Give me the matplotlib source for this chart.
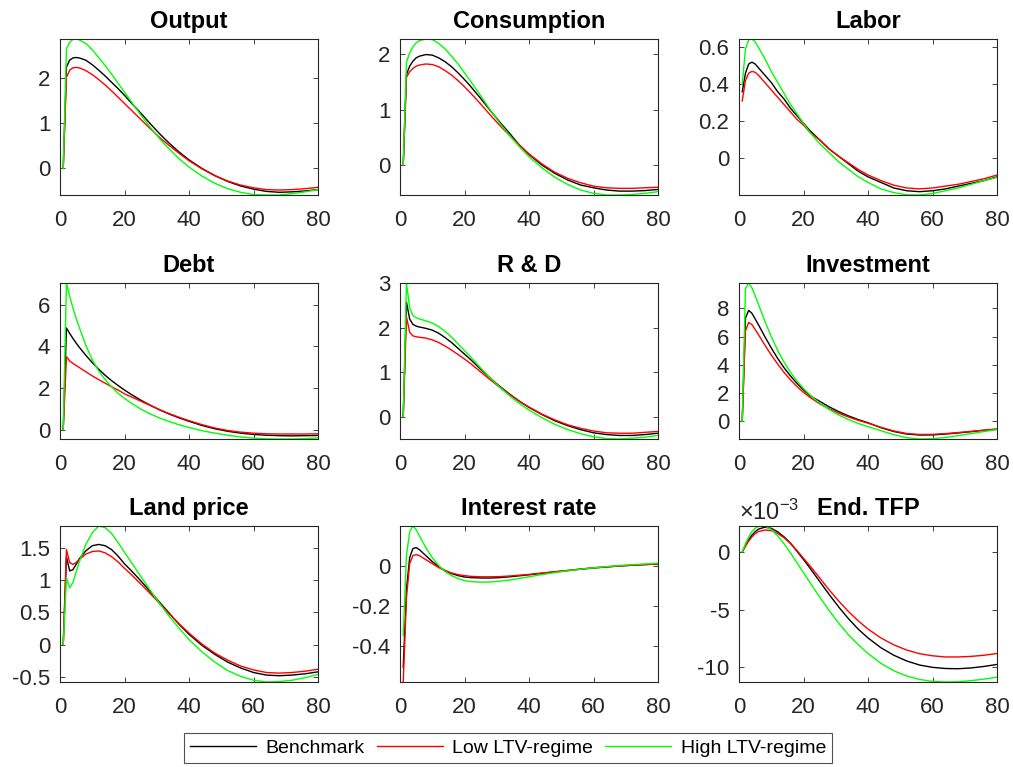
import matplotlib
matplotlib.use('Agg')
import matplotlib.pyplot as plt
from matplotlib.ticker import FuncFormatter

# Matplotlib configuration (MATLAB look)
matplotlib.rc('font', family=['Liberation Sans', 'DejaVu Sans'], size=16)
matplotlib.rc('axes', unicode_minus=False)
matplotlib.rc('mathtext', fontset='custom', rm='Liberation Sans',
              it='Liberation Sans:italic', bf='Liberation Sans:bold')

# Quarters after the shock
periods = [1, 2, 3, 4, 5, 6, 8, 10, 12, 14, 16, 18, 20, 22, 25, 28, 31, 34,
           37, 40, 44, 48, 52, 56, 60, 64, 68, 72, 76, 80]

titles = ['Output', 'Consumption', 'Labor', 'Debt', 'R & D', 'Investment',
          'Land price', 'Interest rate', 'End. TFP']
series_labels = ['Benchmark', 'Low LTV-regime', 'High LTV-regime']

output_bench = [0, 2.25, 2.40, 2.45, 2.46, 2.45, 2.40, 2.30, 2.18, 2.05, 1.91, 1.77, 1.62, 1.46, 1.23,
                0.99, 0.76, 0.55, 0.36, 0.19, 0.00, -0.16, -0.29, -0.39, -0.46, -0.51, -0.53, -0.52, -0.50, -0.47]
output_low = [0, 2.02, 2.18, 2.23, 2.24, 2.23, 2.17, 2.08, 1.97, 1.85, 1.72, 1.58, 1.44, 1.30, 1.09,
              0.88, 0.68, 0.50, 0.33, 0.17, -0.01, -0.16, -0.28, -0.37, -0.43, -0.47, -0.48, -0.47, -0.45, -0.42]
output_high = [0, 2.65, 2.80, 2.86, 2.87, 2.85, 2.77, 2.63, 2.46, 2.28, 2.09, 1.89, 1.69, 1.49, 1.19,
               0.91, 0.65, 0.42, 0.21, 0.03, -0.17, -0.33, -0.45, -0.53, -0.58, -0.59, -0.59, -0.56, -0.52, -0.47]

cons_bench = [0, 1.63, 1.78, 1.87, 1.93, 1.96, 1.99, 1.98, 1.93, 1.86, 1.77, 1.66, 1.54, 1.41, 1.20,
              0.98, 0.77, 0.57, 0.36, 0.19, 0.00, -0.15, -0.27, -0.36, -0.41, -0.45, -0.47, -0.47, -0.46, -0.44]
cons_low = [0, 1.58, 1.68, 1.74, 1.78, 1.80, 1.82, 1.81, 1.77, 1.70, 1.62, 1.52, 1.41, 1.29, 1.10,
            0.90, 0.71, 0.53, 0.36, 0.20, 0.02, -0.13, -0.24, -0.32, -0.38, -0.41, -0.42, -0.42, -0.41, -0.40]
cons_high = [0, 1.85, 2.02, 2.13, 2.20, 2.24, 2.27, 2.26, 2.19, 2.09, 1.96, 1.82, 1.66, 1.50, 1.25,
             0.99, 0.75, 0.53, 0.33, 0.15, -0.05, -0.22, -0.35, -0.45, -0.51, -0.54, -0.54, -0.53, -0.51, -0.48]

labor_bench = [0.36, 0.46, 0.51, 0.52, 0.51, 0.49, 0.45, 0.41, 0.36, 0.32, 0.27, 0.23, 0.19, 0.15, 0.10,
               0.05, 0.01, -0.03, -0.07, -0.10, -0.13, -0.16, -0.175, -0.18, -0.175, -0.165, -0.15, -0.135, -0.12, -0.10]
labor_low = [0.31, 0.42, 0.46, 0.47, 0.465, 0.45, 0.41, 0.37, 0.33, 0.29, 0.25, 0.21, 0.18, 0.14, 0.10,
             0.05, 0.01, -0.025, -0.06, -0.09, -0.12, -0.145, -0.16, -0.165, -0.16, -0.15, -0.14, -0.125, -0.11, -0.09]
labor_high = [0.40, 0.59, 0.64, 0.645, 0.63, 0.60, 0.54, 0.47, 0.41, 0.35, 0.29, 0.24, 0.19, 0.14, 0.08,
              0.03, -0.02, -0.06, -0.10, -0.13, -0.165, -0.185, -0.197, -0.198, -0.19, -0.175, -0.16, -0.14, -0.12, -0.103]

debt_bench = [0, 4.88, 4.62, 4.38, 4.16, 3.95, 3.57, 3.22, 2.90, 2.61, 2.35, 2.12, 1.90, 1.70, 1.42,
              1.17, 0.94, 0.74, 0.56, 0.40, 0.20, 0.04, -0.08, -0.17, -0.23, -0.27, -0.29, -0.30, -0.29, -0.28]
debt_low = [0, 3.50, 3.30, 3.18, 3.08, 2.98, 2.78, 2.58, 2.40, 2.23, 2.06, 1.90, 1.72, 1.58, 1.37,
            1.16, 0.95, 0.76, 0.59, 0.43, 0.24, 0.08, -0.04, -0.12, -0.17, -0.20, -0.21, -0.21, -0.21, -0.20]
debt_high = [0, 7.04, 6.40, 5.85, 5.35, 4.90, 4.05, 3.35, 2.82, 2.40, 2.05, 1.75, 1.50, 1.28, 0.99,
             0.75, 0.55, 0.38, 0.23, 0.10, -0.05, -0.17, -0.27, -0.35, -0.41, -0.44, -0.45, -0.45, -0.43, -0.40]

rd_bench = [0, 2.58, 2.20, 2.08, 2.04, 2.02, 1.99, 1.95, 1.88, 1.78, 1.67, 1.54, 1.41, 1.28, 1.07,
            0.87, 0.68, 0.51, 0.35, 0.21, 0.05, -0.09, -0.20, -0.29, -0.36, -0.40, -0.42, -0.42, -0.40, -0.37]
rd_low = [0, 2.25, 1.90, 1.82, 1.80, 1.79, 1.77, 1.73, 1.67, 1.59, 1.50, 1.40, 1.30, 1.19, 1.01,
          0.83, 0.66, 0.50, 0.35, 0.22, 0.06, -0.07, -0.18, -0.26, -0.32, -0.36, -0.37, -0.37, -0.35, -0.33]
rd_high = [0, 3.01, 2.45, 2.28, 2.23, 2.20, 2.16, 2.11, 2.03, 1.92, 1.79, 1.64, 1.49, 1.34, 1.10,
           0.87, 0.66, 0.47, 0.30, 0.15, -0.02, -0.17, -0.29, -0.38, -0.45, -0.49, -0.50, -0.48, -0.46, -0.42]

inv_bench = [0, 7.30, 7.85, 7.65, 7.25, 6.85, 6.00, 5.20, 4.45, 3.78, 3.20, 2.68, 2.22, 1.82, 1.42,
             1.02, 0.68, 0.38, 0.12, -0.10, -0.45, -0.72, -0.90, -0.97, -0.96, -0.90, -0.82, -0.73, -0.64, -0.56]
inv_low = [0, 6.40, 7.00, 6.85, 6.50, 6.15, 5.40, 4.70, 4.05, 3.45, 2.93, 2.46, 2.05, 1.70, 1.24,
           0.88, 0.57, 0.30, 0.07, -0.13, -0.42, -0.68, -0.86, -0.93, -0.92, -0.87, -0.79, -0.71, -0.62, -0.54]
inv_high = [0, 9.40, 9.79, 9.45, 8.90, 8.30, 7.10, 6.00, 5.02, 4.18, 3.46, 2.85, 2.32, 1.87, 1.30,
            0.83, 0.44, 0.12, -0.15, -0.38, -0.66, -0.95, -1.16, -1.25, -1.23, -1.14, -1.01, -0.87, -0.72, -0.58]

land_bench = [0, 1.36, 1.14, 1.16, 1.24, 1.33, 1.45, 1.53, 1.55, 1.53, 1.47, 1.37, 1.25, 1.15, 0.99,
              0.82, 0.65, 0.48, 0.31, 0.16, -0.01, -0.15, -0.27, -0.36, -0.43, -0.47, -0.48, -0.47, -0.45, -0.42]
land_low = [0, 1.47, 1.27, 1.24, 1.27, 1.32, 1.40, 1.44, 1.45, 1.42, 1.36, 1.28, 1.18, 1.09, 0.94,
            0.79, 0.63, 0.47, 0.32, 0.18, 0.01, -0.13, -0.24, -0.33, -0.39, -0.43, -0.44, -0.43, -0.41, -0.38]
land_high = [0, 1.03, 0.88, 0.96, 1.12, 1.28, 1.55, 1.73, 1.835, 1.81, 1.72, 1.58, 1.43, 1.28, 1.06,
             0.84, 0.63, 0.43, 0.25, 0.08, -0.11, -0.27, -0.40, -0.49, -0.55, -0.577, -0.57, -0.55, -0.51, -0.46]

rate_bench = [-0.51, -0.12, 0.04, 0.085, 0.09, 0.08, 0.05, 0.02, -0.005, -0.025, -0.04, -0.05, -0.057, -0.06, -0.062,
              -0.062, -0.06, -0.056, -0.051, -0.046, -0.039, -0.032, -0.025, -0.018, -0.012, -0.007, -0.002, 0.002, 0.005, 0.008]
rate_low = [-0.582, -0.16, 0.01, 0.05, 0.055, 0.05, 0.03, 0.01, -0.01, -0.025, -0.037, -0.045, -0.05, -0.054, -0.056,
            -0.056, -0.055, -0.052, -0.048, -0.044, -0.037, -0.03, -0.024, -0.017, -0.011, -0.006, -0.002, 0.002, 0.005, 0.008]
rate_high = [-0.35, 0.05, 0.17, 0.198, 0.18, 0.15, 0.09, 0.04, 0.0, -0.03, -0.05, -0.065, -0.075, -0.08, -0.083,
             -0.082, -0.078, -0.072, -0.064, -0.056, -0.045, -0.035, -0.026, -0.018, -0.011, -0.005, 0.0, 0.005, 0.008, 0.012]

# End. TFP, in units of 1e-3
tfp_bench = [0, 0.55, 1.05, 1.45, 1.75, 1.97, 2.15, 2.05, 1.75, 1.30, 0.75, 0.05, -0.65, -1.40, -2.55,
             -3.70, -4.80, -5.80, -6.70, -7.45, -8.30, -8.95, -9.45, -9.80, -10.00, -10.10, -10.12, -10.05, -9.92, -9.75]
tfp_low = [0, 0.50, 0.95, 1.30, 1.58, 1.76, 1.90, 1.85, 1.60, 1.22, 0.72, 0.12, -0.55, -1.20, -2.25,
           -3.30, -4.28, -5.18, -5.98, -6.68, -7.45, -8.05, -8.50, -8.82, -9.00, -9.10, -9.10, -9.05, -8.95, -8.80]
tfp_high = [0, 0.70, 1.30, 1.75, 2.05, 2.20, 2.25, 1.95, 1.40, 0.70, -0.10, -0.95, -1.80, -2.65, -3.90,
            -5.10, -6.20, -7.20, -8.05, -8.80, -9.65, -10.30, -10.75, -11.05, -11.22, -11.27, -11.25, -11.15, -11.02, -10.85]
tfp_scale = 1e-3

panels = [
    (output_bench, output_low, output_high),
    (cons_bench, cons_low, cons_high),
    (labor_bench, labor_low, labor_high),
    (debt_bench, debt_low, debt_high),
    (rd_bench, rd_low, rd_high),
    (inv_bench, inv_low, inv_high),
    (land_bench, land_low, land_high),
    (rate_bench, rate_low, rate_high),
    ([v * tfp_scale for v in tfp_bench], [v * tfp_scale for v in tfp_low],
     [v * tfp_scale for v in tfp_high]),
]
yticks = [[0, 1, 2], [0, 1, 2], [0, 0.2, 0.4, 0.6], [0, 2, 4, 6], [0, 1, 2, 3],
          [0, 2, 4, 6, 8], [-0.5, 0, 0.5, 1, 1.5], [-0.4, -0.2, 0],
          [-10e-3, -5e-3, 0]]

colors = ['k', (1, 0, 0), (0, 1, 0)]
grey = (0.15, 0.15, 0.15)

fig = plt.figure(figsize=(10.13, 7.67), dpi=100)
lefts = [60, 400, 739]
tops = [39, 283, 526]
W, H = 258, 156
handles = []
for i, (series, title) in enumerate(zip(panels, titles)):
    r, c = divmod(i, 3)
    ax = fig.add_axes([lefts[c] / 1013., 1 - (tops[r] + H) / 767., W / 1013., H / 767.])
    for ys, col, lab in zip(series, colors, series_labels):
        h, = ax.plot(periods, ys, color=col, lw=1.0, label=lab)
        if i == 0:
            handles.append(h)
    allv = [v for ys in series for v in ys]
    ax.set_ylim(min(allv), max(allv))
    ax.set_xlim(0, 80)
    ax.set_xticks([0, 20, 40, 60, 80])
    ax.set_yticks(yticks[i])
    if i == 8:
        ax.yaxis.set_major_formatter(FuncFormatter(lambda v, p: '%g' % round(v / tfp_scale, 6)))
        ax.text(0, 1.005, r'$\times\mathregular{10}^{\mathregular{-3}}$', transform=ax.transAxes,
                ha='left', va='bottom', fontsize=17, color=grey)
    else:
        ax.yaxis.set_major_formatter(FuncFormatter(lambda v, p: '%g' % round(v, 6)))
    ax.tick_params(direction='in', top=True, right=True, length=3.5, width=0.6,
                   colors=grey, labelsize=16)
    ax.tick_params(axis='x', pad=11)
    ax.tick_params(axis='y', pad=7)
    for sp in ax.spines.values():
        sp.set_color(grey)
        sp.set_linewidth(0.8)
    ax.set_title(title, fontsize=17, fontweight='bold', pad=8)

leg = fig.legend(handles, series_labels, loc='center', bbox_to_anchor=(508 / 1013., 1 - 748 / 767.),
                 ncol=3, fontsize=14, frameon=True, fancybox=False, handlelength=3.4,
                 handletextpad=0.5, columnspacing=0.6, borderpad=0.3, borderaxespad=0)
leg.get_frame().set_edgecolor(grey)
leg.get_frame().set_linewidth(0.8)

plt.savefig('out.png', dpi=100)
plt.close()
